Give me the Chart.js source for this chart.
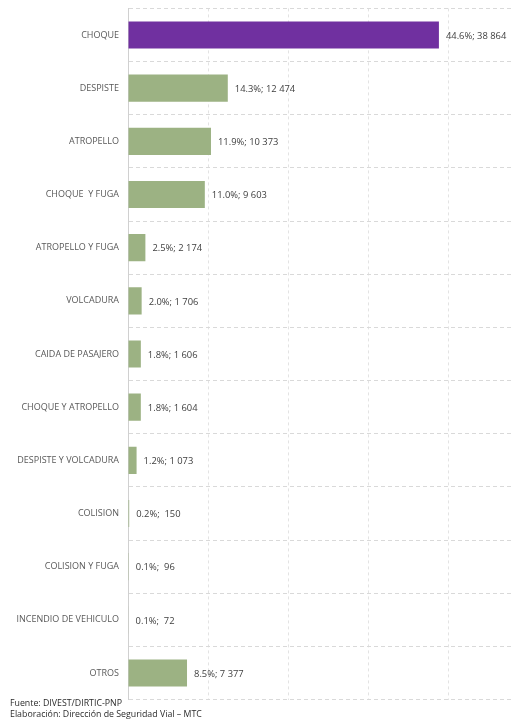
<!DOCTYPE html>
<html>
<head>
<meta charset="utf-8">
<script src="https://cdn.jsdelivr.net/npm/chart.js@4"></script>
<style>
  html, body { margin: 0; padding: 0; background: #fff; }
  #wrap { position: absolute; left: 0; top: -6px; width: 522px; height: 720px; }
  #fuente { position: absolute; left: 10px; top: 698px; font: 8.8px "Open Sans", sans-serif; color: #2b2b2b; line-height: 11px; }
</style>
</head>
<body>
<div id="wrap"><canvas id="chart"></canvas></div>
<div id="fuente">Fuente: DIVEST/DIRTIC-PNP<br>Elaboración: Dirección de Seguridad Vial – MTC</div>
<script>
// datos del gráfico
const categorias = ['CHOQUE', 'DESPISTE', 'ATROPELLO', 'CHOQUE  Y FUGA', 'ATROPELLO Y FUGA', 'VOLCADURA',
    'CAIDA DE PASAJERO', 'CHOQUE Y ATROPELLO', 'DESPISTE Y VOLCADURA', 'COLISION', 'COLISION Y FUGA',
    'INCENDIO DE VEHICULO', 'OTROS'];
const valores = [38864, 12474, 10373, 9603, 2174, 1706, 1606, 1604, 1073, 150, 96, 72, 7377];
const porcentajes = [44.6, 14.3, 11.9, 11.0, 2.5, 2.0, 1.8, 1.8, 1.2, 0.2, 0.1, 0.1, 8.5];
const marcasX = [0, 10000, 20000, 30000, 40000];

const morado = '#7030a0';
const verde = '#9cb283';

// etiqueta "44.6%; 38 864"
function etiqueta(i) {
    const v = valores[i];
    const num = v >= 1000 ? Math.floor(v / 1000) + ' ' + String(v % 1000).padStart(3, '0') : ' ' + v;
    return porcentajes[i].toFixed(1) + '%; ' + num;
}

const etiquetasPlugin = {
    id: 'etiquetas',
    afterDatasetsDraw(chart) {
        const ctx = chart.ctx;
        const meta = chart.getDatasetMeta(0);
        ctx.save();
        ctx.font = '9.4px "Open Sans", sans-serif';
        ctx.fillStyle = '#404040';
        ctx.textBaseline = 'middle';
        meta.data.forEach((bar, i) => {
            ctx.fillText(etiqueta(i), bar.x + 7, bar.y + 1);
        });
        ctx.restore();
    }
};

new Chart(document.getElementById('chart'), {
    type: 'bar',
    data: {
        labels: categorias,
        datasets: [{
            data: valores,
            backgroundColor: valores.map((v, i) => i === 0 ? morado : verde),
            borderWidth: 0,
            barPercentage: 0.51,
            categoryPercentage: 1
        }]
    },
    options: {
        indexAxis: 'y',
        responsive: true,
        maintainAspectRatio: false,
        animation: false,
        layout: { padding: { top: 2, bottom: 2.5, right: 9, left: 0 } },
        plugins: { legend: { display: false }, tooltip: { enabled: false } },
        scales: {
            x: {
                min: 0,
                max: 48125,
                afterBuildTicks(scale) { scale.ticks = marcasX.map(v => ({ value: v })); },
                ticks: { display: false },
                grid: { color: '#e3e3e3', drawTicks: false },
                border: { display: false, dash: [3, 3] },
                afterFit(scale) { scale.height = 0; }
            },
            y: {
                ticks: {
                    color: '#595959',
                    font: { family: '"Open Sans", sans-serif', size: 9 },
                    padding: 9,
                    autoSkip: false
                },
                grid: { color: '#d9d9d9', drawTicks: false, offset: true },
                border: { display: true, color: '#d0d0d0', dash: [4, 3] },
                afterFit(scale) { scale.width = 128; }
            }
        }
    },
    plugins: [etiquetasPlugin]
});
</script>
</body>
</html>
